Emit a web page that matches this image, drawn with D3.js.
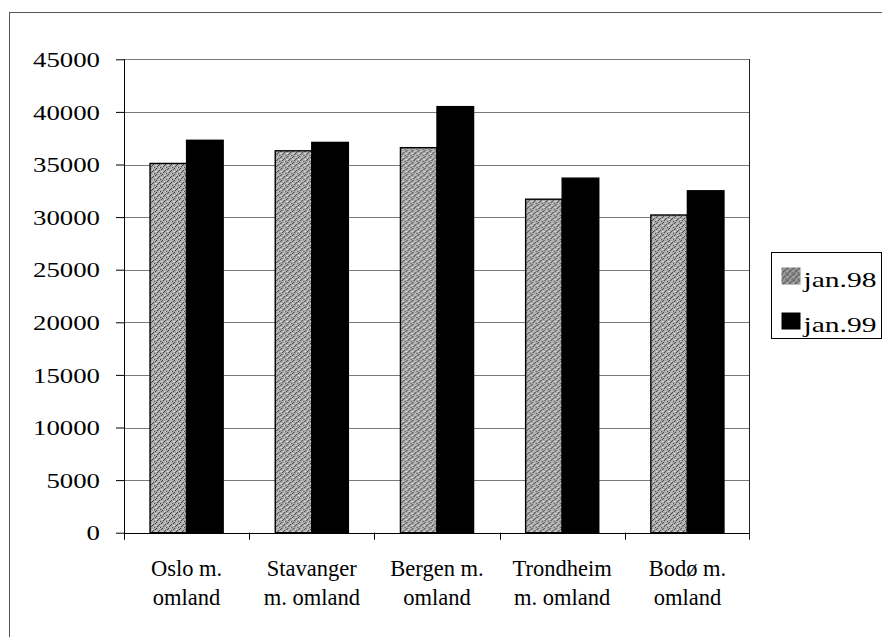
<!DOCTYPE html>
<html>
<head>
<meta charset="utf-8">
<script src="https://cdn.jsdelivr.net/npm/d3@7"></script>
<style>
  html, body { margin: 0; padding: 0; background: #fff; }
  #vis { width: 882px; height: 637px; }
</style>
</head>
<body>
<div id="vis"></div>
<script>
'use strict'

////////////////////////////////////////
//////////////// Data //////////////////
////////////////////////////////////////

const categories = ["Oslo m. omland", "Stavanger m. omland", "Bergen m. omland", "Trondheim m. omland", "Bodø m. omland"];
const categoryLines = [["Oslo m.", "omland"], ["Stavanger", "m. omland"], ["Bergen m.", "omland"], ["Trondheim", "m. omland"], ["Bodø m.", "omland"]];
const series = ["jan.98", "jan.99"];
const jan98 = [35100, 36300, 36600, 31700, 30200];
const jan99 = [37300, 37100, 40500, 33700, 32500];
const yTicks = [0, 5000, 10000, 15000, 20000, 25000, 30000, 35000, 40000, 45000];

const rows = categories.map((c, i) => ({ category: c, values: [jan98[i], jan99[i]] }));

////////////////////////////////////////
/////////////// Options ////////////////
////////////////////////////////////////

const options = {
  width: 882,
  height: 637,
  plot: { left: 124, right: 750, top: 59.3, bottom: 532.7 },
  font: "'Liberation Serif', 'Times New Roman', serif",
  tickFontSize: 22,
  digitWidth: 13.4,     // the printed numbers are set wide
  catFontSize: 22.5,
  legendFontSize: 22,
  legendTextWidth: 73,
  grid: "#7a7a7a"
}

////////////////////////////////////////
////////////// SVG Setup ///////////////
////////////////////////////////////////

const svg = d3.select('#vis').append('svg')
  .attr('width', options.width)
  .attr('height', options.height)
  .attr('font-family', options.font);

// speckled grey fills, like the printed hatching
const defs = svg.append('defs');

function stipple(id, base, dark, light) {
  const p = defs.append('pattern')
    .attr('id', id)
    .attr('width', 6).attr('height', 6)
    .attr('patternUnits', 'userSpaceOnUse');
  p.append('rect').attr('width', 6).attr('height', 6).attr('fill', base);
  [[0, 0], [3, 2], [1, 4], [4, 5], [5, 1], [2, 3]].forEach(([x, y]) => {
    p.append('rect').attr('x', x).attr('y', y).attr('width', 1).attr('height', 1).attr('fill', dark);
  });
  [[2, 1], [5, 3], [0, 3], [3, 5]].forEach(([x, y]) => {
    p.append('rect').attr('x', x).attr('y', y).attr('width', 1).attr('height', 1).attr('fill', light);
  });
}
stipple('stipple', '#ababab', '#3f3f3f', '#dadada');
stipple('stippleDark', '#8c8c8c', '#3a3a3a', '#c8c8c8');

const fills = ['url(#stipple)', '#000'];
const legendFills = ['url(#stippleDark)', '#000'];

// outer chart frame (right and bottom run off the page)
svg.append('rect')
  .attr('x', 9.5).attr('y', 12.5)
  .attr('width', 900).attr('height', 700)
  .attr('fill', 'none')
  .attr('stroke', '#555')
  .attr('stroke-width', 1);

////////////////////////////////////////
////////////// Scales //////////////////
////////////////////////////////////////

const P = options.plot;

const y = d3.scaleLinear()
  .domain([0, 45000])
  .range([P.bottom, P.top]);

const x0 = d3.scaleBand()
  .domain(categories)
  .range([P.left, P.right])
  .paddingInner(0.416)
  .paddingOuter(0.208);

const x1 = d3.scaleBand()
  .domain(series)
  .range([0, x0.bandwidth()]);

////////////////////////////////////////
////////////// Grid ////////////////////
////////////////////////////////////////

svg.append('g')
  .selectAll('line')
  .data(yTicks.filter(d => d > 0))
  .join('line')
  .attr('x1', P.left).attr('x2', P.right)
  .attr('y1', d => Math.round(y(d)) + 0.5)
  .attr('y2', d => Math.round(y(d)) + 0.5)
  .attr('stroke', options.grid)
  .attr('stroke-width', 1);

////////////////////////////////////////
////////////// Bars ////////////////////
////////////////////////////////////////

const groups = svg.append('g')
  .selectAll('g')
  .data(rows)
  .join('g')
  .attr('transform', d => `translate(${x0(d.category)},0)`);

groups.selectAll('rect')
  .data(d => d.values.map((v, i) => ({ key: series[i], value: v, i: i })))
  .join('rect')
  .attr('x', d => x1(d.key))
  .attr('y', d => y(d.value))
  .attr('width', x1.bandwidth())
  .attr('height', d => y(0) - y(d.value))
  .attr('fill', d => fills[d.i])
  .attr('stroke', '#000')
  .attr('stroke-width', 1.4);

////////////////////////////////////////
////////////// Axes ////////////////////
////////////////////////////////////////

const fmt = d3.format('d');

const yAxis = svg.append('g')
  .attr('transform', `translate(${P.left},0)`)
  .call(d3.axisLeft(y).tickValues(yTicks).tickSize(8).tickSizeOuter(0).tickPadding(0).tickFormat(fmt));

yAxis.attr('font-family', options.font).attr('font-size', options.tickFontSize);
yAxis.select('.domain').remove();
yAxis.selectAll('.tick line').attr('stroke', '#000');
yAxis.selectAll('.tick text')
  .attr('x', -24)
  .attr('dy', '0.33em')
  .attr('textLength', d => fmt(d).length * options.digitWidth)
  .attr('lengthAdjust', 'spacingAndGlyphs')
  .attr('fill', '#000');

// plot frame: left axis, right border, baseline
svg.append('line')
  .attr('x1', P.left + 0.5).attr('x2', P.left + 0.5)
  .attr('y1', y(45000)).attr('y2', y(0) + 7)
  .attr('stroke', '#000');

svg.append('line')
  .attr('x1', P.right - 0.5).attr('x2', P.right - 0.5)
  .attr('y1', y(45000)).attr('y2', y(0) + 7)
  .attr('stroke', '#222');

svg.append('line')
  .attr('x1', P.left).attr('x2', P.right)
  .attr('y1', Math.round(y(0)) + 0.5).attr('y2', Math.round(y(0)) + 0.5)
  .attr('stroke', '#000')
  .attr('stroke-width', 1.2);

// category boundary ticks
const edge = (x0.step() - x0.bandwidth()) / 2;
const bounds = categories.map(c => x0(c) - edge).concat([P.right]);

svg.append('g')
  .selectAll('line')
  .data(bounds.slice(1, -1))
  .join('line')
  .attr('x1', d => Math.round(d) + 0.5).attr('x2', d => Math.round(d) + 0.5)
  .attr('y1', y(0)).attr('y2', y(0) + 7)
  .attr('stroke', '#000');

// category labels
const catLabels = svg.append('g')
  .attr('font-size', options.catFontSize)
  .selectAll('text')
  .data(categories)
  .join('text')
  .attr('x', d => x0(d) + x0.bandwidth() / 2)
  .attr('y', 576)
  .attr('text-anchor', 'middle')
  .attr('fill', '#000');

catLabels.selectAll('tspan')
  .data((d, i) => categoryLines[i])
  .join('tspan')
  .attr('x', function () { return d3.select(this.parentNode).attr('x'); })
  .attr('dy', (d, i) => i === 0 ? 0 : 29)
  .text(d => d);

////////////////////////////////////////
////////////// Legend //////////////////
////////////////////////////////////////

const legend = svg.append('g')
  .attr('transform', 'translate(771.5,252.5)')
  .attr('font-size', options.legendFontSize);

legend.append('rect')
  .attr('width', 110).attr('height', 86)
  .attr('fill', '#fff')
  .attr('stroke', '#000')
  .attr('stroke-width', 1);

const items = legend.selectAll('g')
  .data(series)
  .join('g')
  .attr('transform', (d, i) => `translate(10,${15 + i * 45})`);

items.append('rect')
  .attr('width', 19).attr('height', 17)
  .attr('fill', (d, i) => legendFills[i]);

items.append('text')
  .attr('x', 22)
  .attr('y', 19.5)
  .attr('textLength', options.legendTextWidth)
  .attr('lengthAdjust', 'spacingAndGlyphs')
  .attr('fill', '#000')
  .text(d => d);
</script>
</body>
</html>
